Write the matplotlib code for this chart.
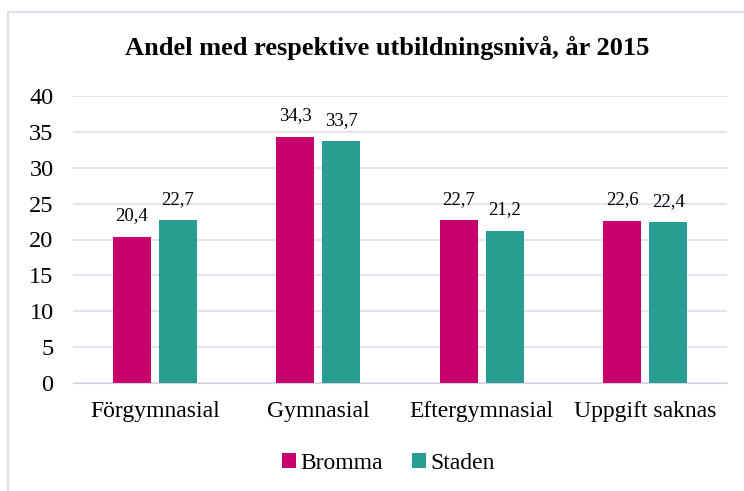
import matplotlib.pyplot as plt
import numpy as np
from matplotlib.patches import Rectangle

categories = ["Förgymnasial", "Gymnasial", "Eftergymnasial", "Uppgift saknas"]
bromma = [20.4, 34.3, 22.7, 22.6]
staden = [22.7, 33.7, 21.2, 22.4]

plt.rcParams['font.family'] = ['Liberation Serif', 'DejaVu Serif']

fig = plt.figure(figsize=(7.44, 4.91), dpi=100)
fig.patches.append(Rectangle((8 / 744, -0.1), 1.1, 1 - 12 / 491 + 0.1,
                             transform=fig.transFigure, fill=False,
                             edgecolor="#E3DAF0", linewidth=1.5))
ax = fig.add_axes([73 / 744, 1 - 383 / 491, 654 / 744, 287 / 491])

x = np.arange(len(categories))
w = 0.232
off = 0.14
b1 = ax.bar(x - off, bromma, w, color="#C8006B", label="Bromma", zorder=3)
b2 = ax.bar(x + off, staden, w, color="#2A9D93", label="Staden", zorder=3)

for bars, vals in ((b1, bromma), (b2, staden)):
    for b, v in zip(bars, vals):
        ax.text(b.get_x() + b.get_width() / 2, v + 2.3, f"{v:.1f}".replace(".", ","),
                ha="center", va="baseline", fontsize=13.5)

ax.set_ylim(0, 40)
ax.set_xlim(-0.5, 3.5)
ax.set_yticks(range(0, 41, 5))
ax.set_xticks(x)
ax.set_xticklabels(categories, fontsize=17)
ax.tick_params(axis="y", labelsize=17.5, length=0, pad=14)
ax.tick_params(axis="x", length=0, pad=13)
ax.grid(axis="y", color="#E3DAF0", linewidth=1.2, zorder=0)
for s in ("top", "right", "left"):
    ax.spines[s].set_visible(False)
ax.spines["bottom"].set_color("#D8D0E4")

fig.text(0.52, 0.903, "Andel med respektive utbildningsnivå, år 2015",
         ha="center", va="center", fontsize=19, fontweight="bold")
fig.legend(loc="center", bbox_to_anchor=(0.522, 0.057), ncol=2, frameon=False,
           fontsize=17, handlelength=0.6, handleheight=0.6, handletextpad=0.2,
           columnspacing=1.2)

fig.savefig("out.png", dpi=100)
